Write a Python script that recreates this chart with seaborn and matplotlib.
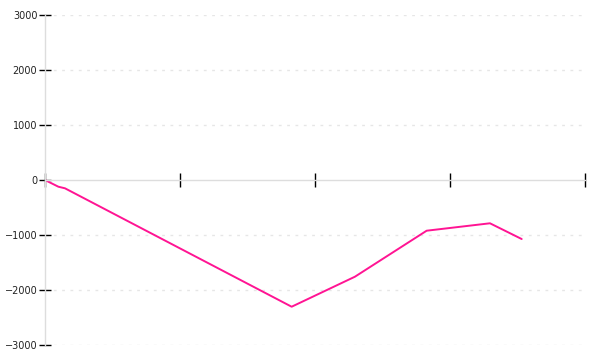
import matplotlib
matplotlib.use("Agg")
import matplotlib.pyplot as plt
import seaborn as sns
import pandas as pd

# data
x_pos = [0.0, 0.059, 0.099, 0.148, 1.827, 2.296, 2.827, 3.296, 3.531]
values = [0, -73, -122, -151, -2304, -1758, -922, -787, -1073]
y_ticks = [-3000, -2000, -1000, 0, 1000, 2000, 3000]
x_ticks = [0, 1, 2, 3, 4]

df = pd.DataFrame({"x": x_pos, "value": values})

sns.set_style("white")
plt.rcParams['font.family'] = ['DejaVu Sans']

fig = plt.figure(figsize=(6, 3.6), dpi=100)
ax = fig.add_axes([45 / 600, 15 / 360, 540 / 600, 330 / 360])

sns.lineplot(data=df, x="x", y="value", ax=ax, color="#ff1493", linewidth=1.4)

ax.set_xlim(0, 4)
ax.set_ylim(-3000, 3000)
ax.set_yticks(y_ticks)
ax.set_yticklabels([f"{v}".replace("-", "\u2212") for v in y_ticks])
ax.set_xticks(x_ticks)
ax.set_xticklabels([])
ax.set_xlabel("")
ax.set_ylabel("")

for v in y_ticks:
    if v != 0:
        ax.axhline(v, color="#e6e6e6", linewidth=1.0, linestyle=(0, (2, 4)), zorder=0)

for s in ["top", "right"]:
    ax.spines[s].set_visible(False)
ax.spines["left"].set_color("#dddddd")
ax.spines["left"].set_linewidth(1.0)
ax.spines["bottom"].set_position(("data", 0))
ax.spines["bottom"].set_color("#dddddd")
ax.spines["bottom"].set_linewidth(1.0)

ax.tick_params(axis="y", direction="inout", length=9, width=1.0, color="black",
               labelsize=7, labelcolor="#222222", pad=1, left=True)
ax.tick_params(axis="x", direction="inout", length=10, width=1.0, color="black",
               bottom=True)

fig.savefig("out.png", dpi=100)
